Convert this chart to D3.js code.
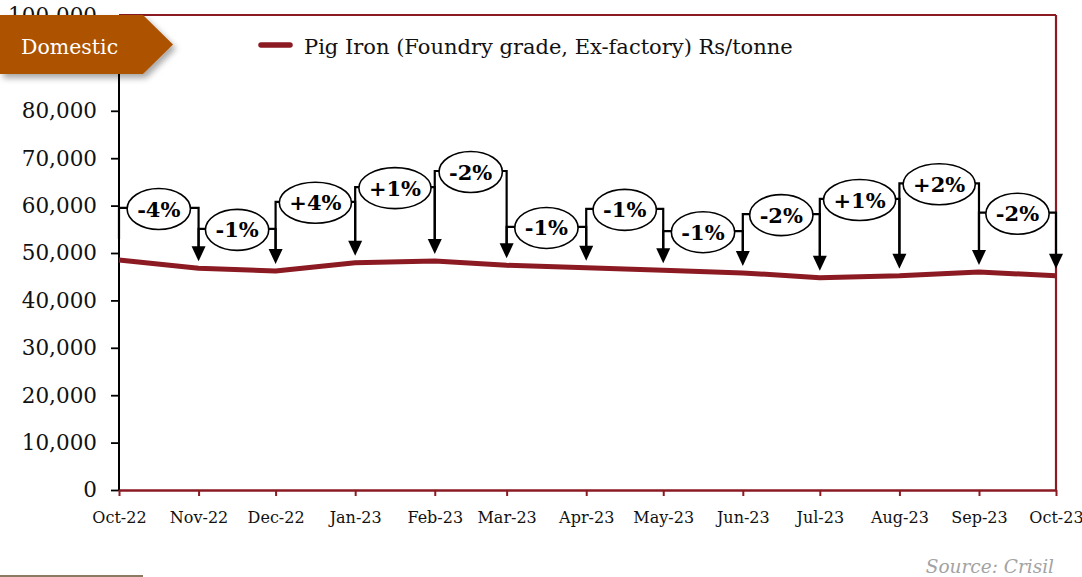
<!DOCTYPE html>
<html>
<head>
<meta charset="utf-8">
<script src="https://cdn.jsdelivr.net/npm/d3@7"></script>
<style>
  html, body { margin: 0; padding: 0; background: #fff; }
  svg { display: block; }
  text { font-family: "DejaVu Serif", Georgia, serif; }
</style>
</head>
<body>
<svg id="chart" width="1082" height="577"></svg>
<script>
// ---- data ----
const months = ["2022-10-01","2022-11-01","2022-12-01","2023-01-01","2023-02-01","2023-03-01",
                "2023-04-01","2023-05-01","2023-06-01","2023-07-01","2023-08-01","2023-09-01","2023-10-01"];
const prices = [48520, 46770, 46200, 47950, 48300, 47400, 46900, 46350, 45800, 44800, 45200, 46000, 45200];
const changeLabels = ["-4%","-1%","+4%","+1%","-2%","-1%","-1%","-1%","-2%","+1%","+2%","-2%"];
const labelLevels = [59500, 55100, 60800, 63900, 67300, 55500, 59300, 54600, 58200, 61400, 64700, 58500];
const yTicks = [0, 10000, 20000, 30000, 40000, 50000, 60000, 70000, 80000, 90000, 100000];
const seriesName = "Pig Iron (Foundry grade, Ex-factory) Rs/tonne";
const badgeText = "Domestic";
const sourceText = "Source: Crisil";

const RED = "#8B1A22";
const parse = d3.timeParse("%Y-%m-%d");
const dates = months.map(parse);

const svg = d3.select("#chart");
const mLeft = 119, mRight = 1056, mTop = 15, mBottom = 490;

const x = d3.scaleTime().domain([dates[0], dates[dates.length - 1]]).range([mLeft, mRight]);
const y = d3.scaleLinear().domain([0, 100000]).range([mBottom, mTop + 1]);

// defs
const defs = svg.append("defs");
const f = defs.append("filter").attr("id", "shadow").attr("x", "-20%").attr("y", "-20%").attr("width", "150%").attr("height", "160%");
f.append("feDropShadow").attr("dx", 3).attr("dy", 4).attr("stdDeviation", 3)
  .attr("flood-color", "#000").attr("flood-opacity", 0.35);

// y axis
const yAxis = svg.append("g").attr("transform", `translate(${mLeft},0)`)
  .call(d3.axisLeft(y).tickValues(yTicks).tickFormat(d3.format(",")).tickSize(8).tickPadding(14));
yAxis.select(".domain").remove();
yAxis.selectAll(".tick line").attr("stroke", "#000").attr("stroke-width", 1.8);
yAxis.selectAll(".tick text").attr("fill", "#111").style("font-size", "21.5px")
  .style("font-family", "'DejaVu Serif', serif");

// frame (top, right in dark red; left axis black)
svg.append("line").attr("x1", mLeft).attr("x2", mRight).attr("y1", mTop).attr("y2", mTop)
  .attr("stroke", RED).attr("stroke-width", 2.2);
svg.append("line").attr("x1", mRight).attr("x2", mRight).attr("y1", mTop).attr("y2", mBottom)
  .attr("stroke", RED).attr("stroke-width", 2.2);
svg.append("line").attr("x1", mLeft).attr("x2", mLeft).attr("y1", mTop).attr("y2", mBottom)
  .attr("stroke", "#000").attr("stroke-width", 2);

// x axis
const xAxis = svg.append("g").attr("transform", `translate(0,${mBottom})`)
  .call(d3.axisBottom(x).tickValues(dates).tickFormat(d3.timeFormat("%b-%y")).tickSize(6).tickSizeOuter(0));
xAxis.select(".domain").attr("stroke", RED).attr("stroke-width", 2.4);
xAxis.selectAll(".tick line").attr("stroke", RED).attr("stroke-width", 2);
xAxis.selectAll(".tick text").attr("fill", "#111").attr("y", 33).attr("dy", 0)
  .style("font-size", "16px").style("font-family", "'DejaVu Serif', serif");

// series line
const line = d3.line().x((d, i) => x(dates[i])).y(d => y(d));
svg.append("path").datum(prices).attr("d", line)
  .attr("fill", "none").attr("stroke", RED).attr("stroke-width", 5).attr("stroke-linejoin", "round");

// change annotations
const ann = svg.append("g");
changeLabels.forEach((lab, i) => {
  const x0 = x(dates[i]), x1 = x(dates[i + 1]);
  const ly = y(labelLevels[i]);
  const tip0 = y(prices[i]) - 7;
  const tip1 = y(prices[i + 1]) - 7;
  const g = ann.append("g");
  g.append("path")
    .attr("d", `M${x0},${tip0 - 14}V${ly}H${x1}V${tip1 - 14}`)
    .attr("fill", "none").attr("stroke", "#000").attr("stroke-width", 2.2);
  g.append("path")
    .attr("d", `M${x1},${tip1}L${x1 - 7},${tip1 - 15}L${x1 + 7},${tip1 - 15}Z`)
    .attr("fill", "#000");
  const cx = (x0 + x1) / 2;
  const ell = g.append("ellipse").attr("cx", cx).attr("cy", ly + 1)
    .attr("fill", "#fff").attr("stroke", "#000").attr("stroke-width", 1.6);
  const t = g.append("text").attr("x", cx).attr("y", ly + 1).attr("dy", "0.36em")
    .attr("text-anchor", "middle").style("font-size", "21px").style("font-weight", "bold")
    .attr("fill", "#000").text(lab);
  const w = t.node().getComputedTextLength();
  ell.attr("rx", w / 2 + 10).attr("ry", 20.5);
});

// legend
svg.append("line").attr("x1", 261).attr("x2", 290).attr("y1", 45).attr("y2", 45)
  .attr("stroke", RED).attr("stroke-width", 5.5).attr("stroke-linecap", "round");
svg.append("text").attr("x", 304).attr("y", 54).style("font-size", "21px")
  .attr("fill", "#111").text(seriesName);

// Domestic badge
const bg = svg.append("g");
bg.append("path").attr("d", "M0,15H143L173,44.5L143,74H0Z")
  .attr("fill", "#AD5200").attr("filter", "url(#shadow)");
bg.append("text").attr("x", 21).attr("y", 54).style("font-size", "20.5px")
  .attr("fill", "#fff").text(badgeText);

// source
svg.append("text").attr("x", 1054).attr("y", 573).attr("text-anchor", "end")
  .style("font-size", "18.5px").style("font-style", "italic").attr("fill", "#a3a3a3").text(sourceText);

// bottom-left rule
svg.append("line").attr("x1", 0).attr("x2", 143).attr("y1", 576).attr("y2", 576)
  .attr("stroke", "#8B7B62").attr("stroke-width", 2);
</script>
</body>
</html>
